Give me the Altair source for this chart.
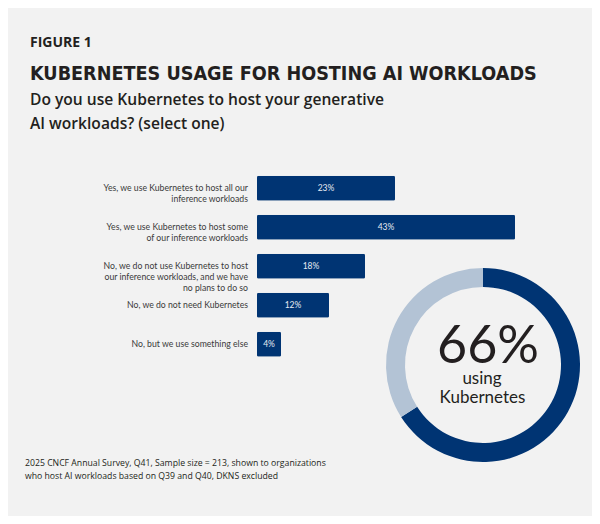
import altair as alt
import pandas as pd

# ---- data ----
categories = [
    "Yes, we use Kubernetes to host all our\ninference workloads",
    "Yes, we use Kubernetes to host some\nof our inference workloads",
    "No, we do not use Kubernetes to host\nour inference workloads, and we have\nno plans to do so",
    "No, we do not need Kubernetes",
    "No, but we use something else",
]
values = [23, 43, 18, 12, 4]

donut_labels = ["Using Kubernetes", "Other"]
donut_values = [66, 34]

fig_label = "FIGURE 1"
title_text = "KUBERNETES USAGE FOR HOSTING AI WORKLOADS"
subtitle_lines = ["Do you use Kubernetes to host your generative", "AI workloads? (select one)"]
footnote_lines = [
    "2025 CNCF Annual Survey, Q41, Sample size = 213, shown to organizations",
    "who host AI workloads based on Q39 and Q40, DKNS excluded",
]
big_number = "66%"
big_caption = ["using", "Kubernetes"]

NAVY = "#003473"
LIGHT = "#b3c3d5"
INK = "#231f20"
BG = "#f2f2f2"

bars_df = pd.DataFrame({
    "category": categories,
    "value": values,
    "label": [f"{v}%" for v in values],
})

x_scale = alt.Scale(domain=[0, 43], range=[249, 507])
y_scale = alt.Scale(domain=categories, range=[160.7, 355.7], paddingInner=0.36, paddingOuter=0.18)

base = alt.Chart(bars_df)

bars = base.mark_bar(color=NAVY, cornerRadius=1.5).encode(
    x=alt.X("value:Q", scale=x_scale, axis=None),
    y=alt.Y("category:N", scale=y_scale, axis=None, sort=categories),
)

value_text = base.transform_calculate(mid="datum.value / 2").mark_text(
    font="Lato", fontSize=8.5, color="#e6ebf2", align="center", baseline="middle"
).encode(
    x=alt.X("mid:Q", scale=x_scale, axis=None),
    y=alt.Y("category:N", scale=y_scale, axis=None, sort=categories, bandPosition=0.5),
    text="label:N",
)

cat_text = base.mark_text(
    font="Lato", fontSize=8.7, color="#3a3a3a", align="right", baseline="middle",
    lineBreak="\n", lineHeight=11,
).encode(
    x=alt.value(240),
    y=alt.Y("category:N", scale=y_scale, axis=None, sort=categories, bandPosition=0.5),
    text="category:N",
)

donut_df = pd.DataFrame({"part": donut_labels, "value": donut_values, "ord": [0, 1]})
donut = alt.Chart(donut_df).mark_arc(radius=97, radius2=78).encode(
    theta=alt.Theta("value:Q", stack=True),
    order=alt.Order("ord:Q"),
    color=alt.Color("part:N", scale=alt.Scale(domain=donut_labels, range=[NAVY, LIGHT]), legend=None),
    x=alt.value(475),
    y=alt.value(357),
)

one = pd.DataFrame({"k": [0]})

def txt(text, x, y, **kw):
    return alt.Chart(one).mark_text(text=text, **kw).encode(x=alt.value(x), y=alt.value(y))

texts = [
    txt(fig_label, 22, 39, font="Open Sans", fontSize=14, fontWeight="bold", color=INK, align="left", baseline="alphabetic"),
    txt(title_text, 22, 72, font="DejaVu Sans Condensed", fontSize=19.6, fontWeight="bold", color=INK, align="left", baseline="alphabetic"),
    txt(subtitle_lines[0], 22, 97, font="Open Sans", fontSize=15.6, fontWeight=600, color=INK, align="left", baseline="alphabetic"),
    txt(subtitle_lines[1], 22, 121, font="Open Sans", fontSize=15.6, fontWeight=600, color=INK, align="left", baseline="alphabetic"),
    txt(footnote_lines[0], 17, 458, font="Open Sans", fontSize=8.7, color=INK, align="left", baseline="alphabetic"),
    txt(footnote_lines[1], 17, 470.5, font="Open Sans", fontSize=8.7, color=INK, align="left", baseline="alphabetic"),
    txt(big_number, 480, 355, font="Lato", fontSize=52, color=INK, align="center", baseline="alphabetic"),
    txt(big_caption[0], 474, 376, font="Lato", fontSize=17, color=INK, align="center", baseline="alphabetic"),
    txt(big_caption[1], 474.5, 394.5, font="Lato", fontSize=17, color=INK, align="center", baseline="alphabetic"),
]

chart = alt.layer(bars, value_text, cat_text, donut, *texts).resolve_scale(
    color="independent"
).properties(
    width=584, height=508, background=BG, padding=0,
    autosize=alt.AutoSizeParams(type="none"),
).configure_view(stroke=None)

chart.save("out.html", embed_options={"renderer": "svg", "actions": False})
